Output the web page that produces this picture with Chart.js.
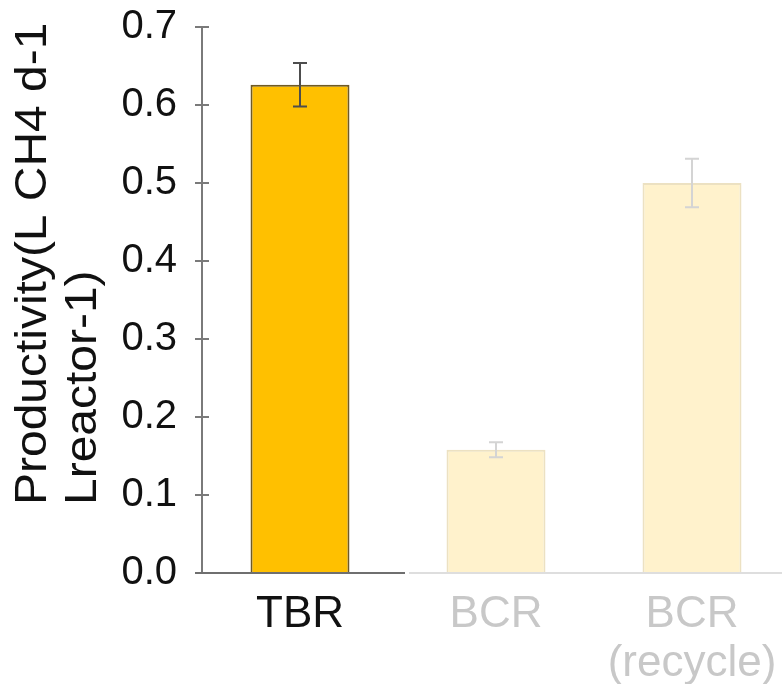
<!DOCTYPE html>
<html>
<head>
<meta charset="utf-8">
<style>
  html, body { margin: 0; padding: 0; background: #fff; overflow: hidden; }
  #wrap { width: 800px; height: 684px; }
</style>
<script src="https://cdn.jsdelivr.net/npm/chart.js@4/dist/chart.umd.min.js"></script>
</head>
<body>
<div id="wrap"><canvas id="prodChart" width="800" height="684"></canvas></div>
<script>
// Productivity per reactor type
const categories = ['TBR', 'BCR', ['BCR', '(recycle)']];
const productivity = [0.626, 0.158, 0.5];
const errors = [0.028, 0.0095, 0.031];
const yTitleLines = ['Productivity(L CH4 d-1', 'Lreactor-1)'];

const FONT = "'Liberation Sans', Arial, sans-serif";
const barFill = ['#FFC000', '#FFF2CC', '#FFF2CC'];
const barEdge = ['#6e5a26', '#ece1c2', '#ece1c2'];
const errColor = ['#4d4d4d', '#d4d4d4', '#d4d4d4'];
const labelColor = ['#111', '#c8c8c8', '#c8c8c8'];

// error bars, axis decorations and rotated y title
const extras = {
  id: 'extras',
  afterDatasetsDraw(chart) {
    const { ctx, scales: { x, y } } = chart;
    ctx.save();
    ctx.lineWidth = 2;
    productivity.forEach((v, i) => {
      const cx = x.getPixelForValue(i);
      const top = y.getPixelForValue(v + errors[i]);
      const bot = y.getPixelForValue(v - errors[i]);
      ctx.strokeStyle = errColor[i];
      ctx.beginPath();
      ctx.moveTo(cx, top); ctx.lineTo(cx, bot);
      ctx.moveTo(cx - 7, top); ctx.lineTo(cx + 7, top);
      ctx.moveTo(cx - 7, bot); ctx.lineTo(cx + 7, bot);
      ctx.stroke();
    });
    ctx.restore();
  },
  afterDraw(chart) {
    const { ctx, chartArea, scales: { x, y } } = chart;
    ctx.save();
    // y axis line + ticks crossing it
    ctx.strokeStyle = '#7a7a7a';
    ctx.lineWidth = 2;
    ctx.beginPath();
    ctx.moveTo(chartArea.left, chartArea.top);
    ctx.lineTo(chartArea.left, chartArea.bottom);
    y.ticks.forEach(t => {
      const py = y.getPixelForValue(t.value);
      ctx.moveTo(chartArea.left - 7, py);
      ctx.lineTo(chartArea.left + 7, py);
    });
    ctx.stroke();

    // x axis line: dark under TBR, faded afterwards
    const split = (x.getPixelForValue(0) + x.getPixelForValue(1)) / 2;
    ctx.beginPath();
    ctx.strokeStyle = '#6f6f6f';
    ctx.moveTo(chartArea.left - 7, chartArea.bottom);
    ctx.lineTo(split + 7, chartArea.bottom);
    ctx.stroke();
    ctx.beginPath();
    ctx.strokeStyle = '#dedede';
    ctx.moveTo(split + 11, chartArea.bottom);
    ctx.lineTo(chartArea.right, chartArea.bottom);
    ctx.stroke();

    // y title, two lines, left aligned at bottom
    ctx.fillStyle = '#111';
    ctx.font = '44px ' + FONT;
    ctx.textAlign = 'left';
    ctx.textBaseline = 'alphabetic';
    ctx.translate(46, 505);
    ctx.rotate(-Math.PI / 2);
    ctx.scale(1.09, 1);
    yTitleLines.forEach((line, i) => ctx.fillText(line, 0, i * 50));
    ctx.restore();
  }
};

new Chart(document.getElementById('prodChart'), {
  type: 'bar',
  data: {
    labels: categories,
    datasets: [{
      data: productivity,
      backgroundColor: barFill,
      borderColor: barEdge,
      borderWidth: 2,
      categoryPercentage: 1,
      barPercentage: 0.505
    }]
  },
  options: {
    responsive: false,
    animation: false,
    devicePixelRatio: 1,
    layout: { padding: { top: 27, right: 10, left: 0, bottom: 0 } },
    plugins: { legend: { display: false }, tooltip: { enabled: false } },
    scales: {
      y: {
        min: 0,
        max: 0.7,
        grid: { display: false },
        border: { display: false },
        ticks: {
          stepSize: 0.1,
          padding: 17,
          color: '#111',
          font: { family: FONT, size: 40 },
          callback: v => v.toFixed(1)
        },
        afterFit: s => { s.width = 202; s.paddingTop = 0; s.paddingBottom = 0; }
      },
      x: {
        grid: { display: false },
        border: { display: false },
        ticks: {
          padding: 10,
          color: ctx => labelColor[ctx.index],
          font: { family: FONT, size: 44, lineHeight: 1.1 },
          maxRotation: 0,
          autoSkip: false
        },
        afterFit: s => { s.height = 111; s.paddingLeft = 0; s.paddingRight = 0; }
      }
    }
  },
  plugins: [extras]
});
</script>
</body>
</html>
